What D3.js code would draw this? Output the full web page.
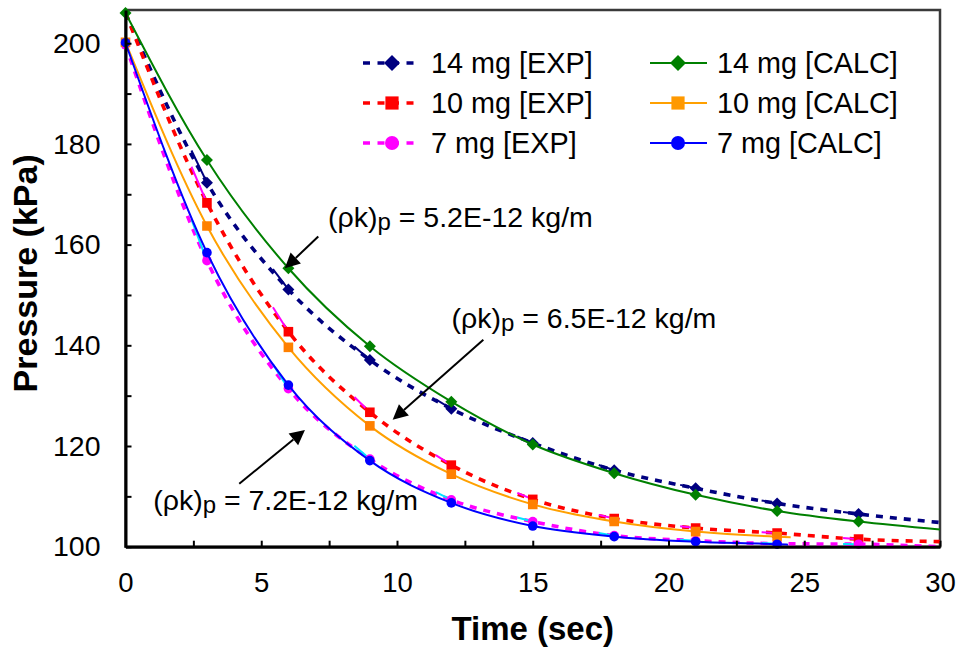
<!DOCTYPE html>
<html>
<head>
<meta charset="utf-8">
<script src="https://cdn.jsdelivr.net/npm/d3@7"></script>
<style>
  html, body { margin: 0; padding: 0; background: #fff; }
  svg { display: block; font-family: "Liberation Sans", Arial, sans-serif; }
</style>
</head>
<body>
<svg id="chart" width="958" height="652"></svg>
<script>
// ---------------- data ----------------
const TIME_EXP = [0, 3, 6, 9, 12, 15, 18, 21, 24, 27, 30];
const EXP_14 = [206, 172.3, 151.1, 137.1, 127.4, 120.6, 115.2, 111.6, 108.6, 106.5, 104.8];
const EXP_10 = [206, 168.3, 142.7, 126.7, 116.2, 109.4, 105.6, 103.7, 102.7, 101.5, 101.0];
const EXP_7  = [199.7, 156.8, 131.4, 117.4, 109.3, 105.0, 102.2, 101.2, 100.6, 100.5, 100.0];

const TIME_CALC_14 = [0, 3, 6, 9, 12, 15, 18, 21, 24, 27, 30];
const CALC_14 = [206, 176.8, 155.3, 139.8, 128.8, 120.3, 114.6, 110.3, 107.1, 105.0, 103.4];
const TIME_CALC_10 = [0, 3, 6, 9, 12, 15, 18, 21, 24, 24.5];
const CALC_10 = [200.2, 163.7, 139.6, 124.0, 114.4, 108.4, 105.0, 103.0, 102.0, 101.9];
const TIME_CALC_7 = [0, 3, 6, 9, 12, 15, 18, 21, 24, 24.4];
const CALC_7  = [200.1, 158.4, 132.1, 117.1, 108.7, 104.1, 102.0, 101.0, 100.5, 100.4];

const SERIES_NAMES = ["14 mg [EXP]", "10 mg [EXP]", "7 mg [EXP]", "14 mg [CALC]", "10 mg [CALC]", "7 mg [CALC]"];

const X_TICKS = [0, 2.5, 5, 7.5, 10, 12.5, 15, 17.5, 20, 22.5, 25, 27.5, 30];
const X_LABELS = [0, 5, 10, 15, 20, 25, 30];
const Y_TICKS = [100, 110, 120, 130, 140, 150, 160, 170, 180, 190, 200];
const Y_LABELS = [100, 120, 140, 160, 180, 200];

const ANNOTATIONS = [
  { text: "5.2E-12 kg/m", tx: 7.46, ty: 163.4, from: [7.10, 161.6], to: [5.87, 155.3] },
  { text: "6.5E-12 kg/m", tx: 12.01, ty: 143.4, from: [13.18, 141.1], to: [9.84, 125.2] },
  { text: "7.2E-12 kg/m", tx: 1.02, ty: 107.3, from: [4.19, 112.5], to: [6.61, 123.2] }
];

// ---------------- layout ----------------
const svg = d3.select("#chart");
const PL = 125.5, PR = 940, PT = 10, PB = 546.7;
const x = d3.scaleLinear().domain([0, 30]).range([PL, PR]);
const y = d3.scaleLinear().domain([100, 206.6]).range([PB, PT]);

const series = [
  { name: SERIES_NAMES[0], t: TIME_EXP, v: EXP_14, color: "#000080", shape: "diamond", marker: "#000080", dashed: true, lead: "#000080", mFrom: 1 },
  { name: SERIES_NAMES[1], t: TIME_EXP, v: EXP_10, color: "#ff0000", shape: "square", marker: "#ff0000", dashed: true, lead: "#ff00ff", mFrom: 1 },
  { name: SERIES_NAMES[2], t: TIME_EXP, v: EXP_7, color: "#ff00ff", shape: "circle", marker: "#ff00ff", dashed: true, lead: "#00e5ff", mFrom: 0 },
  { name: SERIES_NAMES[3], t: TIME_CALC_14, v: CALC_14, color: "#008000", shape: "diamond", marker: "#008000", dashed: false, mFrom: 0 },
  { name: SERIES_NAMES[4], t: TIME_CALC_10, v: CALC_10, color: "#ffa000", shape: "square", marker: "#ff8000", dashed: false, mFrom: 0 },
  { name: SERIES_NAMES[5], t: TIME_CALC_7, v: CALC_7, color: "#0000ff", shape: "circle", marker: "#0000ff", dashed: false, mFrom: 0 }
];

function shapePath(shape, s) {
  if (shape === "diamond") return `M0,${-s}L${s},0L0,${s}L${-s},0Z`;
  if (shape === "square") return `M${-s},${-s}H${s}V${s}H${-s}Z`;
  return d3.arc()({ innerRadius: 0, outerRadius: s, startAngle: 0, endAngle: 2 * Math.PI });
}
const plotSize = { diamond: 6, square: 4.8, circle: 4.8 };
const legSize = { diamond: 8, square: 6.6, circle: 7 };

// ---------------- frame ----------------
svg.append("rect").attr("x", PL).attr("y", PT).attr("width", PR - PL).attr("height", PB - PT)
  .attr("fill", "none").attr("stroke", "#3a3a3a").attr("stroke-width", 2.5);

// ---------------- series ----------------
svg.append("defs").append("clipPath").attr("id", "clip")
  .append("rect").attr("x", PL - 10).attr("y", PT - 8).attr("width", PR - PL + 18).attr("height", PB - PT + 12);

const line = d3.line().x(d => x(d[0])).y(d => y(d[1])).curve(d3.curveMonotoneX);
const gS = svg.append("g").attr("clip-path", "url(#clip)");

series.forEach(s => {
  const pts = s.t.map((t, i) => [t, s.v[i]]);
  const g = gS.append("g");
  g.append("path").attr("d", line(pts)).attr("fill", "none")
    .attr("stroke", s.color)
    .attr("stroke-width", s.dashed ? 3.6 : 2)
    .attr("stroke-dasharray", s.dashed ? "7,7" : null);
  const mk = pts.slice(s.mFrom, pts.length - 1);
  if (s.lead) {
    pts.forEach((p, i) => {
      if (i === 0 || i === pts.length - 1) return;
      const q = pts[i - 1];
      const f = 0.19;
      g.append("line")
        .attr("x1", x(p[0] + (q[0] - p[0]) * f)).attr("y1", y(p[1] + (q[1] - p[1]) * f))
        .attr("x2", x(p[0])).attr("y2", y(p[1]))
        .attr("stroke", s.lead).attr("stroke-width", 2);
    });
  }
  g.selectAll("path.m").data(mk).join("path").attr("class", "m")
    .attr("d", shapePath(s.shape, plotSize[s.shape]))
    .attr("transform", d => `translate(${x(d[0])},${y(d[1])})`)
    .attr("fill", s.marker);
});

// ---------------- axes ----------------
const xAxis = d3.axisBottom(x).tickValues(X_TICKS).tickSizeInner(-6).tickSizeOuter(0).tickPadding(26)
  .tickFormat(d => X_LABELS.includes(d) ? d3.format("d")(d) : "");
const gx = svg.append("g").attr("transform", `translate(0,${PB})`).call(xAxis);
gx.select(".domain").attr("stroke", "#000").attr("stroke-width", 3);
gx.selectAll(".tick line").attr("stroke", "#000").attr("stroke-width", 2);
gx.selectAll(".tick text").attr("font-size", 27.5).attr("fill", "#000")
  .attr("font-family", "'Liberation Sans', Arial, sans-serif");

const yAxis = d3.axisLeft(y).tickValues(Y_TICKS).tickSizeInner(-6).tickSizeOuter(0).tickPadding(25)
  .tickFormat(d => Y_LABELS.includes(d) ? d3.format("d")(d) : "");
const gy = svg.append("g").attr("transform", `translate(${PL},0)`).call(yAxis);
gy.select(".domain").attr("stroke", "#000").attr("stroke-width", 3);
gy.selectAll(".tick line").attr("stroke", "#000").attr("stroke-width", 2);
gy.selectAll(".tick text").attr("font-size", 28.5).attr("fill", "#000")
  .attr("font-family", "'Liberation Sans', Arial, sans-serif");

// titles
svg.append("text").attr("x", (PL + PR) / 2).attr("y", 640).attr("text-anchor", "middle")
  .attr("font-size", 33).attr("font-weight", "bold").text("Time (sec)");
svg.append("text").attr("transform", `translate(37,${(PT + PB) / 2 - 5}) rotate(-90)`)
  .attr("text-anchor", "middle").attr("font-size", 34).attr("font-weight", "bold").text("Pressure (kPa)");

// ---------------- legend ----------------
const legCols = [{ x1: 363, x2: 421, xm: 392, xt: 431 }, { x1: 650, x2: 707, xm: 678, xt: 717 }];
const legRows = [63, 103, 143];
series.forEach((s, i) => {
  const c = legCols[i < 3 ? 0 : 1];
  const ry = legRows[i % 3];
  const g = svg.append("g");
  g.append("line").attr("x1", c.x1).attr("x2", c.x2).attr("y1", ry).attr("y2", ry)
    .attr("stroke", s.color).attr("stroke-width", s.dashed ? 3.6 : 2)
    .attr("stroke-dasharray", s.dashed ? "7,7.5" : null);
  g.append("path").attr("d", shapePath(s.shape, legSize[s.shape]))
    .attr("transform", `translate(${c.xm},${ry})`).attr("fill", s.shape === "square" && !s.dashed ? "#ff9900" : s.marker);
  g.append("text").attr("x", c.xt).attr("y", ry + 10).attr("font-size", 28.8).attr("fill", "#000").text(s.name);
});

// ---------------- annotations ----------------
ANNOTATIONS.forEach(a => {
  const t = svg.append("text").attr("x", x(a.tx)).attr("y", y(a.ty)).attr("font-size", 28.5).attr("fill", "#000");
  t.append("tspan").text("(ρk)");
  t.append("tspan").attr("font-size", 24).attr("dy", 3).text("p");
  t.append("tspan").attr("dy", -3).text(" = " + a.text);
  const x1 = x(a.from[0]), y1 = y(a.from[1]), x2 = x(a.to[0]), y2 = y(a.to[1]);
  const ang = Math.atan2(y2 - y1, x2 - x1);
  const L = 15, Wd = 7.5;
  const bx = x2 - L * Math.cos(ang), by = y2 - L * Math.sin(ang);
  svg.append("line").attr("x1", x1).attr("y1", y1).attr("x2", bx).attr("y2", by)
    .attr("stroke", "#000").attr("stroke-width", 2);
  const px = -Math.sin(ang) * Wd, py = Math.cos(ang) * Wd;
  svg.append("path").attr("d", `M${x2},${y2}L${bx + px},${by + py}L${bx - px},${by - py}Z`).attr("fill", "#000");
});
</script>
</body>
</html>
